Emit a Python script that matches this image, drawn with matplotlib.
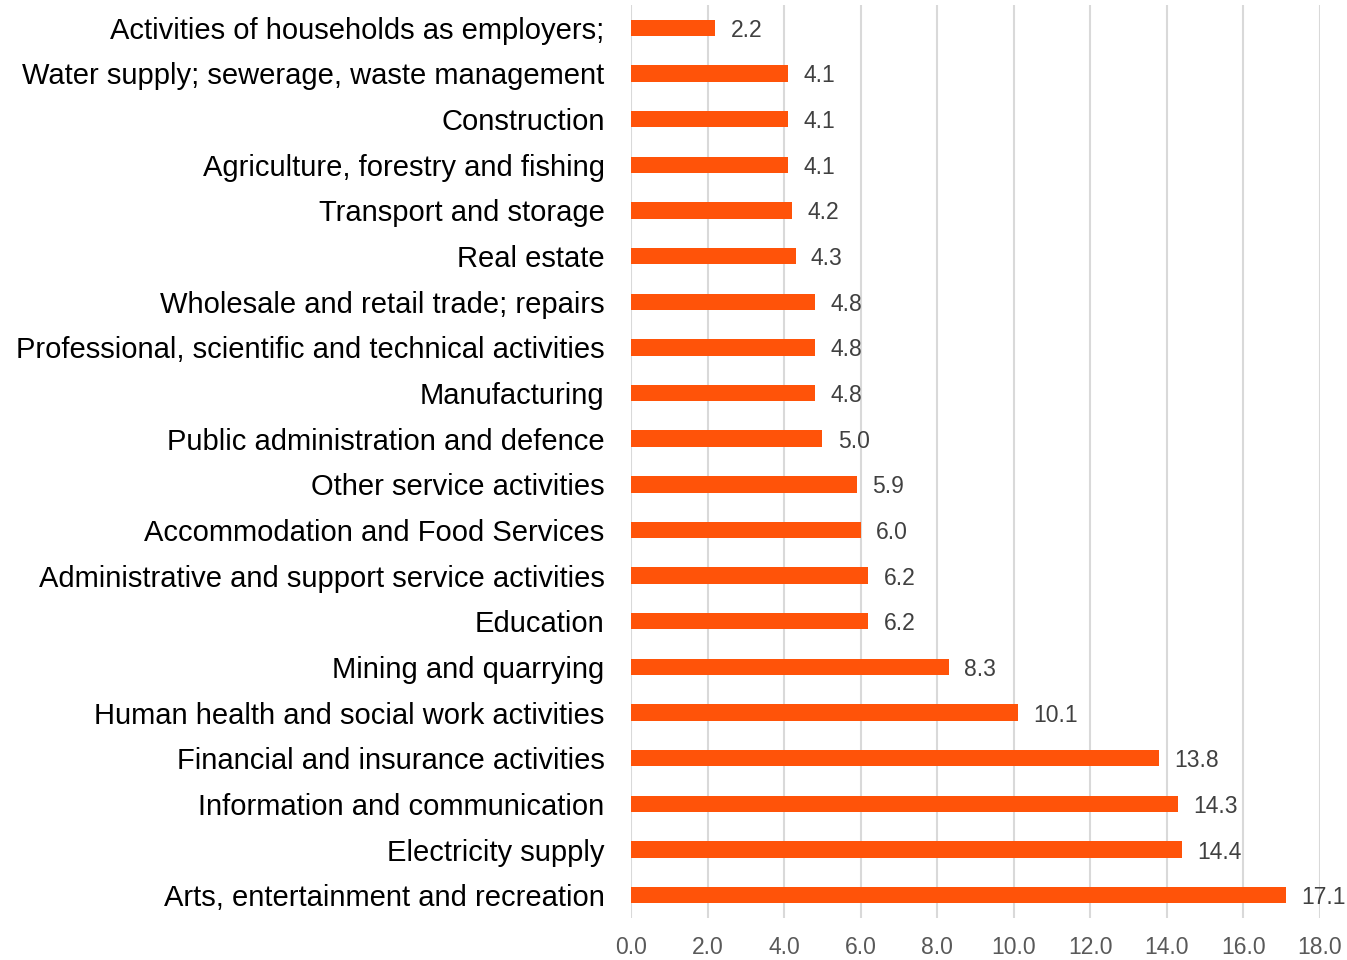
#!/usr/bin/env python3
"""Horizontal bar chart of values by industry sector."""
import matplotlib
matplotlib.use("Agg")
import matplotlib.pyplot as plt

# categories listed top to bottom as they appear in the chart
categories = [
    "Activities of households as employers;",
    "Water supply; sewerage, waste management",
    "Construction",
    "Agriculture, forestry and fishing",
    "Transport and storage",
    "Real estate",
    "Wholesale and retail trade; repairs",
    "Professional, scientific and technical activities",
    "Manufacturing",
    "Public administration and defence",
    "Other service activities",
    "Accommodation and Food Services",
    "Administrative and support service activities",
    "Education",
    "Mining and quarrying",
    "Human health and social work activities",
    "Financial and insurance activities",
    "Information and communication",
    "Electricity supply",
    "Arts, entertainment and recreation",
]
values = [2.2, 4.1, 4.1, 4.1, 4.2, 4.3, 4.8, 4.8, 4.8, 5.0,
          5.9, 6.0, 6.2, 6.2, 8.3, 10.1, 13.8, 14.3, 14.4, 17.1]
x_ticks = [0, 2, 4, 6, 8, 10, 12, 14, 16, 18]

plt.rcParams["font.family"] = ["Liberation Sans", "DejaVu Sans"]

fig = plt.figure(figsize=(13.47, 9.6), dpi=100)
ax = fig.add_axes([631 / 1347, 42 / 960, 689 / 1347, 913 / 960])

pos = list(range(len(categories)))
ax.barh(pos, values, height=0.36, color="#FF5309", zorder=3)

for y, v in zip(pos, values):
    ax.annotate(f"{v:.1f}", (v, y), xytext=(11, 0), textcoords="offset points",
                va="center_baseline", ha="left", fontsize=16.5, color="#404040")

ax.set_xlim(0, 18)
ax.set_ylim(len(categories) - 0.5, -0.5)
ax.set_xticks(x_ticks)
ax.set_xticklabels([f"{t:.1f}" for t in x_ticks], fontsize=16.5, color="#595959")
ax.set_yticks(pos)
ax.set_yticklabels(categories, fontsize=21, color="#000000")
ax.tick_params(axis="y", length=0, pad=19)
ax.tick_params(axis="x", length=0, pad=13)

ax.grid(axis="x", color="#D9D9D9", linewidth=1.5, zorder=0)
for s in ax.spines.values():
    s.set_visible(False)

fig.savefig("out.png", dpi=100)
